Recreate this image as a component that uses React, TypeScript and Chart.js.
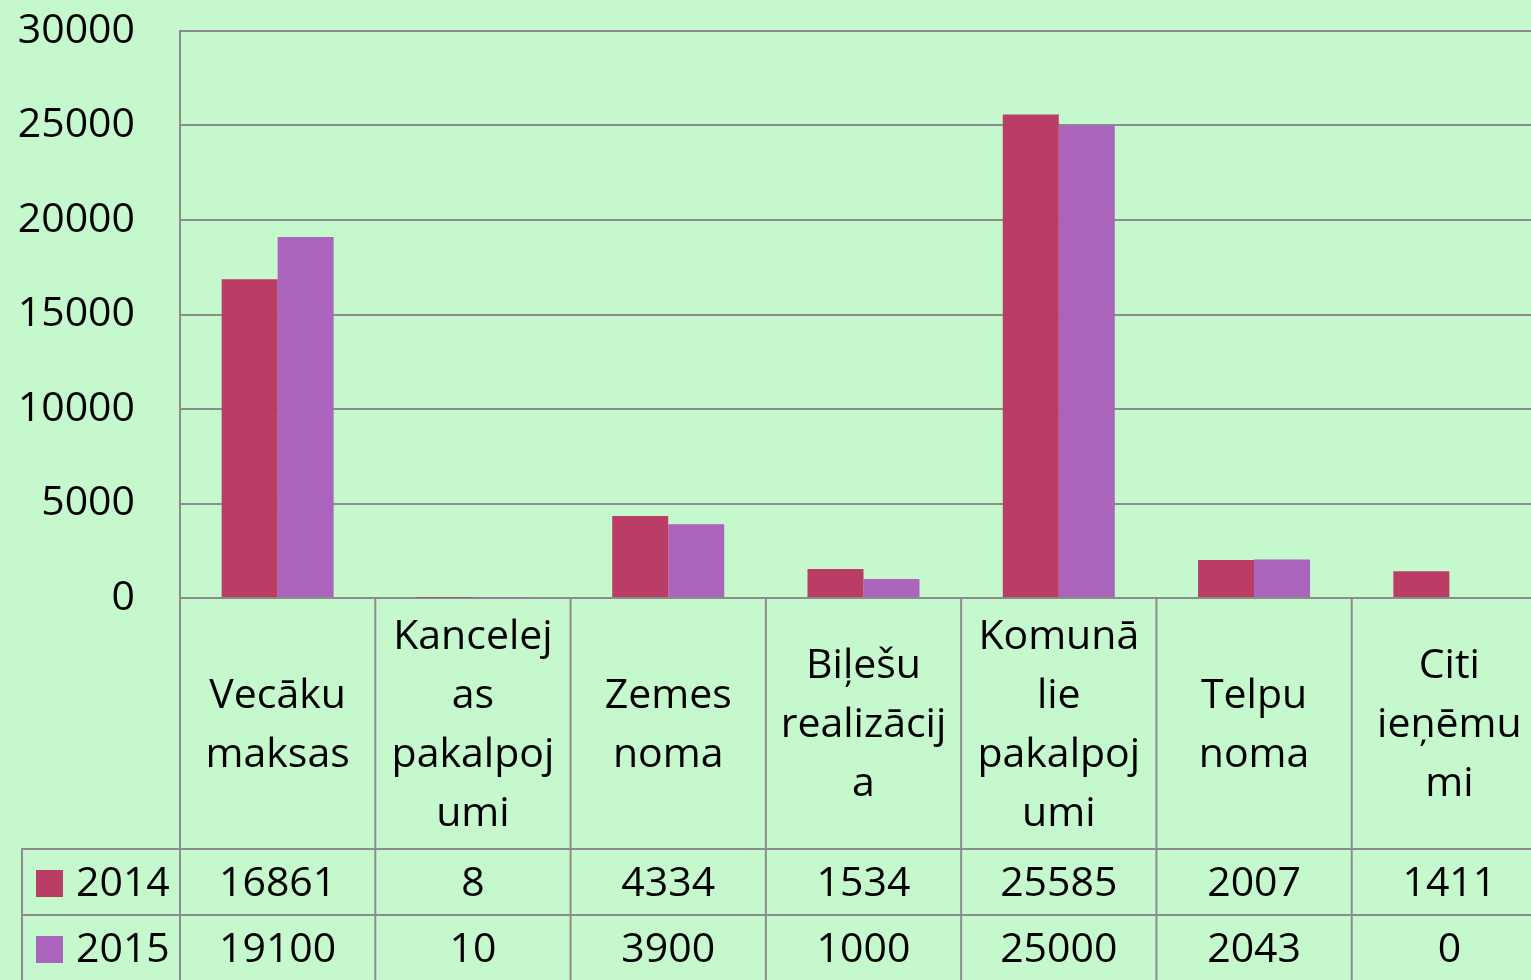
import React, { useEffect, useRef } from "react";
import { Chart, registerables } from "chart.js";

Chart.register(...registerables);

const categories: string[][] = [
  ["Vecāku", "maksas"],
  ["Kancelej", "as", "pakalpoj", "umi"],
  ["Zemes", "noma"],
  ["Biļešu", "realizācij", "a"],
  ["Komunā", "lie", "pakalpoj", "umi"],
  ["Telpu", "noma"],
  ["Citi", "ieņēmu", "mi"],
];
const seriesNames = ["2014", "2015"];
const values2014 = [16861, 8, 4334, 1534, 25585, 2007, 1411];
const values2015 = [19100, 10, 3900, 1000, 25000, 2043, 0];
const yTicks = [0, 5000, 10000, 15000, 20000, 25000, 30000];

const BG = "#C5F8CD";
const LINE = "#8C8C8C";
const C2014 = "#BA3D66";
const C2015 = "#AA64BC";
const FONT = "'Open Sans', sans-serif";

const tablePlugin = {
  id: "dataTable",
  afterDraw(chart: any) {
    const ctx = chart.ctx;
    const xs = chart.scales.x;
    const area = chart.chartArea;
    const H = chart.height;
    const n = categories.length;
    const catW = (area.right - area.left) / n;
    const row1Top = 849;
    const row2Top = 915;
    ctx.save();
    ctx.strokeStyle = LINE;
    ctx.lineWidth = 2;
    ctx.beginPath();
    ctx.moveTo(area.left, area.top);
    ctx.lineTo(area.left, H);
    ctx.stroke();
    for (let i = 0; i < n; i++) {
      const x = xs.getPixelForValue(i) + catW / 2;
      ctx.beginPath();
      ctx.moveTo(x, area.bottom);
      ctx.lineTo(x, H);
      ctx.stroke();
    }
    ctx.beginPath();
    ctx.moveTo(22, row1Top);
    ctx.lineTo(22, H);
    ctx.stroke();
    [row1Top, row2Top].forEach((y) => {
      ctx.beginPath();
      ctx.moveTo(21, y);
      ctx.lineTo(chart.width, y);
      ctx.stroke();
    });
    ctx.fillStyle = "#000";
    ctx.font = `41px ${FONT}`;
    ctx.textAlign = "center";
    ctx.textBaseline = "middle";
    const midY = (area.bottom + row1Top) / 2 + 2;
    const lh = 59;
    categories.forEach((lines, i) => {
      const cx = xs.getPixelForValue(i);
      const start = midY - ((lines.length - 1) * lh) / 2;
      lines.forEach((t, j) => ctx.fillText(t, cx, start + j * lh));
    });
    const rows = [values2014, values2015];
    const rowCenters = [(row1Top + row2Top) / 2 + 2, row2Top + 35];
    rows.forEach((vals, r) => {
      vals.forEach((v, i) => {
        ctx.fillText(String(v), xs.getPixelForValue(i), rowCenters[r]);
      });
    });
    const colors = [C2014, C2015];
    ctx.textAlign = "left";
    seriesNames.forEach((name, r) => {
      ctx.fillStyle = colors[r];
      ctx.fillRect(36, rowCenters[r] - 14, 27, 27);
      ctx.fillStyle = "#000";
      ctx.fillText(name, 76, rowCenters[r]);
    });
    ctx.restore();
  },
};

export default function App() {
  const ref = useRef<HTMLCanvasElement>(null);
  useEffect(() => {
    document.body.style.margin = "0";
    document.body.style.overflow = "hidden";
    document.body.style.background = BG;
    const chart = new Chart(ref.current!, {
      type: "bar",
      data: {
        labels: categories.map((c) => c.join(" ")),
        datasets: [
          { label: seriesNames[0], data: values2014, backgroundColor: C2014, borderWidth: 0 },
          { label: seriesNames[1], data: values2015, backgroundColor: C2015, borderWidth: 0 },
        ],
      },
      options: {
        animation: false,
        responsive: false,
        devicePixelRatio: 1,
        layout: { padding: { top: 31, left: 0, right: 0, bottom: 133 } },
        plugins: { legend: { display: false }, tooltip: { enabled: false } },
        datasets: { bar: { categoryPercentage: 0.5735, barPercentage: 1 } },
        scales: {
          x: {
            ticks: { display: false },
            grid: { display: false, drawTicks: false },
            border: { display: true, color: LINE, width: 2 },
            afterFit: (s: any) => {
              s.height = 251;
              s.paddingLeft = 0;
              s.paddingRight = 0;
            },
          },
          y: {
            min: 0,
            max: 30000,
            afterBuildTicks: (s: any) => {
              s.ticks = yTicks.map((v) => ({ value: v }));
            },
            ticks: {
              color: "#000",
              font: { family: FONT, size: 41 },
              padding: 45,
              callback: (v: any) => String(v),
            },
            grid: { color: LINE, lineWidth: 2, drawTicks: false },
            border: { display: true, color: LINE, width: 2 },
            afterFit: (s: any) => {
              s.width = 180;
              s.paddingTop = 0;
              s.paddingBottom = 0;
            },
          },
        },
      },
      plugins: [tablePlugin],
    });
    return () => chart.destroy();
  }, []);
  return (
    <div
      style={{
        position: "fixed",
        left: 0,
        top: 0,
        width: 1547,
        height: 982,
        overflow: "hidden",
        background: BG,
      }}
    >
      <canvas ref={ref} width={1547} height={982} style={{ width: 1547, height: 982, display: "block" }} />
    </div>
  );
}
